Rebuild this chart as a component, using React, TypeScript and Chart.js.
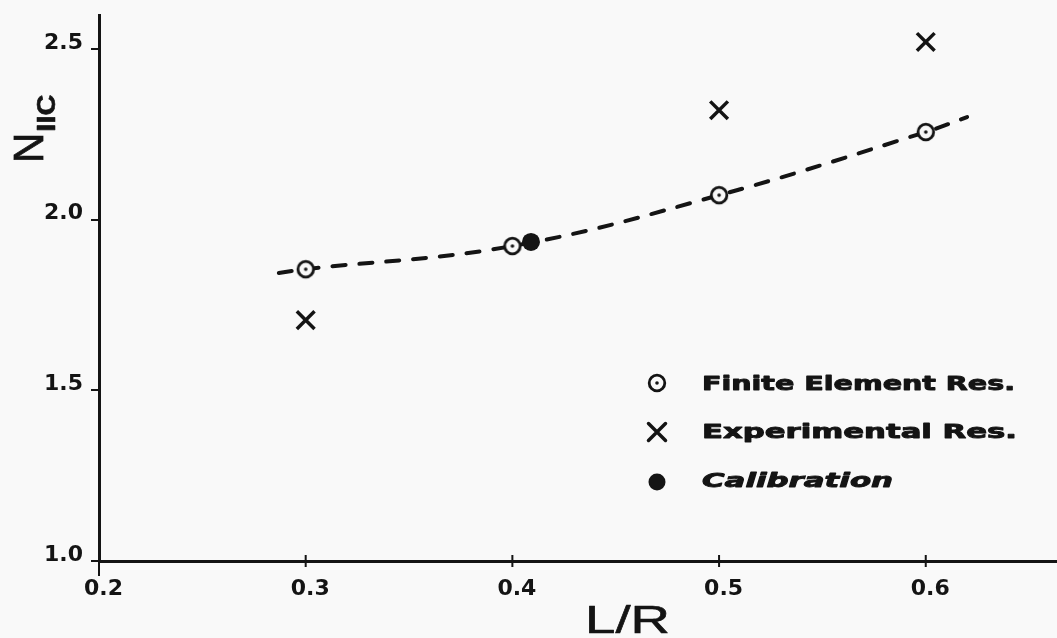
import React, { useEffect, useRef } from "react";
import { Chart, registerables } from "chart.js";

Chart.register(...registerables);

// ---- data ----
const xTickValues = [0.2, 0.3, 0.4, 0.5, 0.6];
const yTickValues = [1.0, 1.5, 2.0, 2.5];

const feX = [0.3, 0.4, 0.5, 0.6];
const feY = [1.855, 1.923, 2.072, 2.257];

const expX = [0.3, 0.5, 0.6];
const expY = [1.706, 2.321, 2.521];

const calX = [0.409];
const calY = [1.935];

// dashed fitted curve knots
const curveX = [0.287, 0.3, 0.4, 0.5, 0.6, 0.62];
const curveY = [1.844, 1.855, 1.923, 2.072, 2.257, 2.301];

const legendLabels = ["Finite Element Res.", "Experimental Res.", "Calibration"];
const xTitle = "L/R";
const yTitleMain = "N";
const yTitleSub = "IIC";

// ---- styles ----
const INK = "#141414";
const BG = "#f9f9f9";
const W = 1057;
const H = 638;
const TOP = 15;
const LEFT = 99;
const BOTTOM_BAND = 77;

function zip(xs: number[], ys: number[]) {
  return xs.map((x, i) => ({ x, y: ys[i] }));
}

function makeFeMarker(): HTMLCanvasElement {
  const c = document.createElement("canvas");
  c.width = 24;
  c.height = 24;
  const g = c.getContext("2d")!;
  g.beginPath();
  g.arc(12, 12, 7.8, 0, Math.PI * 2);
  g.fillStyle = BG;
  g.fill();
  g.lineWidth = 2.8;
  g.strokeStyle = INK;
  g.stroke();
  g.beginPath();
  g.arc(12, 12, 1.8, 0, Math.PI * 2);
  g.fillStyle = INK;
  g.fill();
  return c;
}

export default function App() {
  const ref = useRef<HTMLCanvasElement | null>(null);

  useEffect(() => {
    if (!ref.current) return;
    const feMarker = makeFeMarker();

    const drawStretched = (
      ctx: CanvasRenderingContext2D,
      text: string,
      x: number,
      y: number,
      target: number,
      stroke: number
    ) => {
      const natural = ctx.measureText(text).width;
      ctx.save();
      ctx.translate(x, y);
      ctx.scale(target / natural, 1);
      ctx.fillText(text, 0, 0);
      if (stroke > 0) {
        ctx.lineWidth = stroke;
        ctx.strokeStyle = INK;
        ctx.lineJoin = "round";
        ctx.strokeText(text, 0, 0);
      }
      ctx.restore();
    };

    const annot = {
      id: "annot",
      afterDraw(chart: any) {
        const ctx: CanvasRenderingContext2D = chart.ctx;
        const xs = chart.scales.x;
        const area = chart.chartArea;
        ctx.save();
        ctx.fillStyle = INK;
        ctx.strokeStyle = INK;
        ctx.textAlign = "left";
        ctx.textBaseline = "alphabetic";

        // x-axis tick marks crossing the axis line
        ctx.lineWidth = 2;
        ctx.beginPath();
        xTickValues.forEach((v, i) => {
          const px = xs.getPixelForValue(v);
          ctx.moveTo(px, area.bottom - 6);
          ctx.lineTo(px, area.bottom + (i === 0 ? 15 : 6));
        });
        ctx.stroke();

        // y title, rotated
        ctx.save();
        ctx.translate(43, 163);
        ctx.rotate(-Math.PI / 2);
        ctx.font = '42px "Liberation Sans"';
        ctx.fillText(yTitleMain, 0, 0);
        ctx.lineWidth = 0.8;
        ctx.strokeText(yTitleMain, 0, 0);
        const nw = ctx.measureText(yTitleMain).width;
        ctx.font = 'bold 25px "Liberation Sans"';
        drawStretched(ctx, yTitleSub, nw + 1, 12, 37, 0.6);
        ctx.restore();

        // x title
        ctx.font = '39px "Liberation Sans"';
        drawStretched(ctx, xTitle, 585, 633, 85, 0.6);

        // legend
        const lx = 657;
        const rows = [383, 432, 482];
        const baselines = [390, 438, 487];
        const targets = [313, 315, 191];
        ctx.drawImage(feMarker, lx - 12, rows[0] - 12);
        ctx.lineWidth = 3.5;
        ctx.lineCap = "round";
        const d = 8.5;
        ctx.beginPath();
        ctx.moveTo(lx - d, rows[1] - d);
        ctx.lineTo(lx + d, rows[1] + d);
        ctx.moveTo(lx + d, rows[1] - d);
        ctx.lineTo(lx - d, rows[1] + d);
        ctx.stroke();
        ctx.beginPath();
        ctx.arc(lx, rows[2], 8.5, 0, Math.PI * 2);
        ctx.fill();

        ctx.font = 'bold 19px "DejaVu Sans"';
        drawStretched(ctx, legendLabels[0], 702, baselines[0], targets[0], 0.9);
        drawStretched(ctx, legendLabels[1], 702, baselines[1], targets[1], 0.9);
        ctx.font = 'italic bold 19px "DejaVu Sans"';
        drawStretched(ctx, legendLabels[2], 702, baselines[2], targets[2], 0.9);
        ctx.restore();
      },
    };

    const tickFont = { family: '"DejaVu Sans"', size: 22, weight: "bold" as const };

    const chart = new Chart(ref.current, {
      type: "scatter",
      data: {
        datasets: [
          {
            label: legendLabels[2],
            data: zip(calX, calY),
            pointStyle: "circle",
            pointRadius: 9,
            backgroundColor: INK,
            borderColor: INK,
            borderWidth: 0,
          },
          {
            label: legendLabels[0],
            data: zip(feX, feY),
            pointStyle: feMarker as any,
            pointRadius: 9,
          },
          {
            label: legendLabels[1],
            data: zip(expX, expY),
            pointStyle: "crossRot",
            pointRadius: 12.5,
            borderColor: INK,
            borderWidth: 3.5,
          },
          {
            label: "curve",
            data: zip(curveX, curveY),
            showLine: true,
            pointRadius: 0,
            borderColor: INK,
            borderWidth: 4,
            borderDash: [13, 14],
            borderCapStyle: "round",
            tension: 0.4,
          } as any,
        ],
      },
      options: {
        responsive: false,
        animation: false,
        events: [],
        layout: { autoPadding: false, padding: { top: TOP, right: 0, bottom: 0, left: 0 } },
        plugins: {
          legend: { display: false },
          tooltip: { enabled: false },
          title: { display: false },
        },
        scales: {
          x: {
            type: "linear",
            min: 0.2,
            max: 0.6635,
            afterBuildTicks: (s: any) => {
              s.ticks = xTickValues.map((v) => ({ value: v }));
            },
            afterFit: (s: any) => {
              s.height = BOTTOM_BAND;
              s.paddingLeft = 0;
              s.paddingRight = 0;
              if (s._margins) {
                s._margins.left = LEFT;
                s._margins.right = 0;
              }
              s.width = s._length = W - LEFT;
            },
            border: { display: true, color: INK, width: 3 },
            grid: {
              display: true,
              drawOnChartArea: false,
              drawTicks: true,
              tickLength: 15,
              tickColor: "rgba(0,0,0,0)",
              color: INK,
              lineWidth: 2,
            },
            ticks: {
              color: INK,
              font: tickFont,
              padding: 0,
              align: "end",
              labelOffset: 24,
              maxRotation: 0,
              autoSkip: false,
              callback: (v: any) => Number(v).toFixed(1),
            },
          },
          y: {
            type: "linear",
            min: 1.0,
            max: 2.6,
            afterBuildTicks: (s: any) => {
              s.ticks = yTickValues.map((v) => ({ value: v }));
            },
            afterFit: (s: any) => {
              s.width = LEFT;
              s.paddingTop = 0;
              s.paddingBottom = 0;
              if (s._margins) {
                s._margins.top = TOP;
                s._margins.bottom = BOTTOM_BAND;
              }
              s.height = s._length = H - TOP - BOTTOM_BAND;
            },
            border: { display: true, color: INK, width: 3 },
            grid: { display: true, drawOnChartArea: false, drawTicks: true, tickLength: 8, color: INK, lineWidth: 2 },
            ticks: {
              color: INK,
              font: tickFont,
              padding: 8,
              labelOffset: -6,
              autoSkip: false,
              callback: (v: any) => Number(v).toFixed(1),
            },
          },
        },
      },
      plugins: [annot],
    });

    return () => chart.destroy();
  }, []);

  return (
    <div style={{ position: "fixed", left: 0, top: 0, width: W, height: H, background: BG }}>
      <canvas ref={ref} width={W} height={H} style={{ display: "block", width: W, height: H }} />
    </div>
  );
}
